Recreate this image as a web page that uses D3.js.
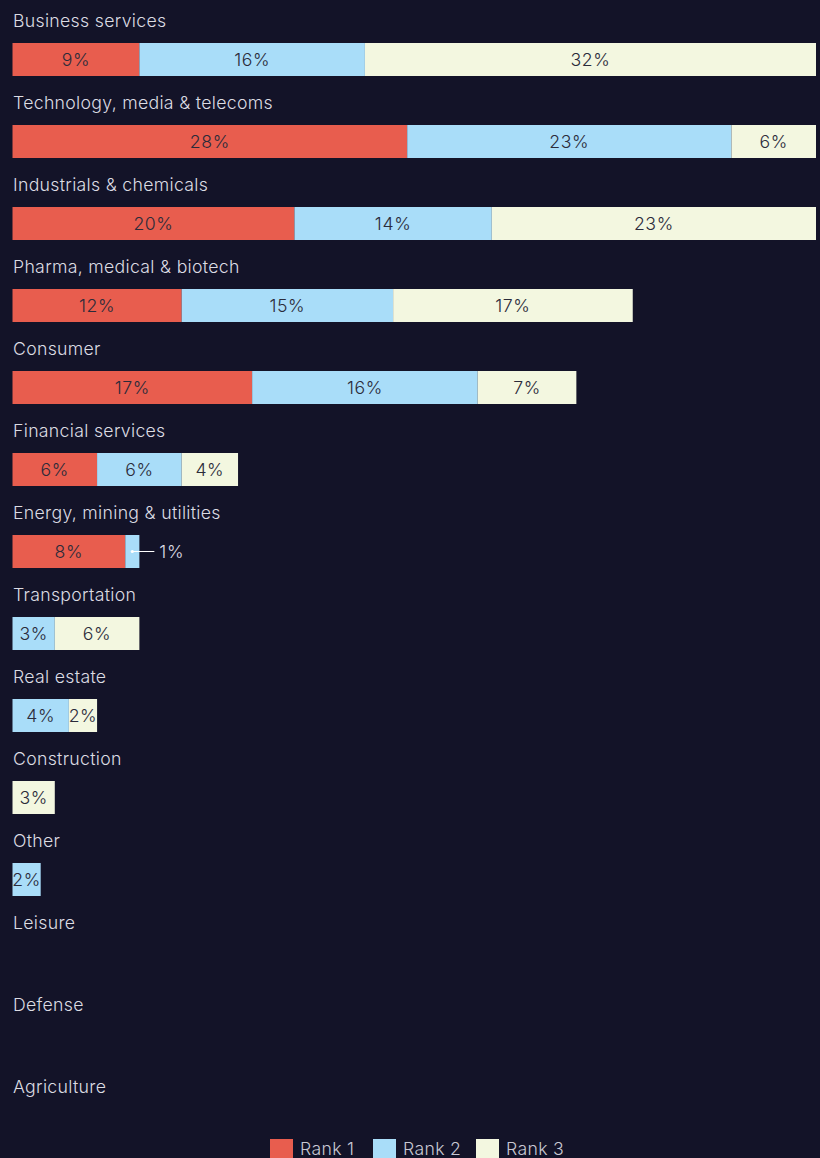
<!DOCTYPE html>
<html>
<head>
<meta charset="utf-8">
<style>
body { margin: 0; background: #131328; }
svg { display: block; font-family: Inter, "Noto Sans", sans-serif; }
.cat { fill: #dcdce3; font-size: 17.7px; font-weight: 300; letter-spacing: 0.3px; }
.val { fill: #2b2b3a; font-size: 17.7px; font-weight: 300; letter-spacing: 0.6px; text-anchor: middle; }
.leg { fill: #c8c8d2; font-size: 17.7px; font-weight: 300; letter-spacing: 0.3px; }
</style>
</head>
<body>
<svg width="820" height="1158"></svg>
<script src="https://cdn.jsdelivr.net/npm/d3@7"></script>
<script>

// data
var categories = ["Business services", "Technology, media & telecoms", "Industrials & chemicals",
  "Pharma, medical & biotech", "Consumer", "Financial services", "Energy, mining & utilities",
  "Transportation", "Real estate", "Construction", "Other", "Leisure", "Defense", "Agriculture"];
var rank1 = [9, 28, 20, 12, 17, 6, 8, 0, 0, 0, 0, 0, 0, 0];
var rank2 = [16, 23, 14, 15, 16, 6, 1, 3, 4, 0, 2, 0, 0, 0];
var rank3 = [32, 6, 23, 17, 7, 4, 0, 6, 2, 3, 0, 0, 0, 0];
var seriesNames = ["Rank 1", "Rank 2", "Rank 3"];
var colors = ["#e85d4e", "#a9ddf9", "#f3f7e0"];

var rows = categories.map(function(c, i) {
  return {cat: c, "Rank 1": rank1[i], "Rank 2": rank2[i], "Rank 3": rank3[i]};
});

var svg = d3.select("svg");
var rowStep = 82;

var x = d3.scaleLinear().domain([0, 57]).range([12.5, 816]);

var stack = d3.stack().keys(seriesNames);
var layers = stack(rows);

// category labels
svg.selectAll(".cat")
  .data(categories)
  .enter().append("text")
    .attr("class", "cat")
    .attr("x", 13)
    .attr("y", function(d, i) { return 27 + i * rowStep; })
    .text(function(d) { return d; });

var g = svg.selectAll(".layer")
  .data(layers)
  .enter().append("g")
    .attr("class", "layer")
    .attr("fill", function(d, i) { return colors[i]; });

g.selectAll("rect")
  .data(function(d) { return d; })
  .enter().filter(function(d) { return d[1] - d[0] > 0; })
  .append("rect")
    .attr("x", function(d) { return x(d[0]); })
    .attr("y", function(d) { return 43 + rows.indexOf(d.data) * rowStep; })
    .attr("width", function(d) { return x(d[1]) - x(d[0]); })
    .attr("height", 33);

// value labels
layers.forEach(function(layer) {
  layer.forEach(function(d, i) {
    var v = d[1] - d[0];
    if (v <= 0) return;
    var w = x(d[1]) - x(d[0]);
    var yMid = 43 + i * rowStep + 16.5;
    if (w < 20) {
      // small segment: leader line to the right
      var cx = x(d[0]) + w / 2;
      svg.append("circle").attr("cx", cx).attr("cy", yMid).attr("r", 1.6).attr("fill", "#ffffff");
      svg.append("line")
        .attr("x1", cx).attr("x2", x(d[1]) + 15)
        .attr("y1", yMid).attr("y2", yMid)
        .attr("stroke", "#ffffff").attr("stroke-width", 1);
      svg.append("text").attr("class", "cat")
        .attr("x", x(d[1]) + 20).attr("y", yMid + 6)
        .style("letter-spacing", "0.6px")
        .text(v + "%");
    } else {
      svg.append("text").attr("class", "val")
        .attr("x", x(d[0]) + w / 2)
        .attr("y", yMid + 6)
        .text(v + "%");
    }
  });
});

// legend
var legX = [270, 373, 476];
var leg = svg.selectAll(".legitem")
  .data(seriesNames)
  .enter().append("g")
    .attr("transform", function(d, i) { return "translate(" + legX[i] + ",1139)"; });
leg.append("rect").attr("width", 23).attr("height", 23)
  .attr("fill", function(d, i) { return colors[i]; });
leg.append("text").attr("class", "leg").attr("x", 30).attr("y", 16)
  .text(function(d) { return d; });

</script>
</body>
</html>
